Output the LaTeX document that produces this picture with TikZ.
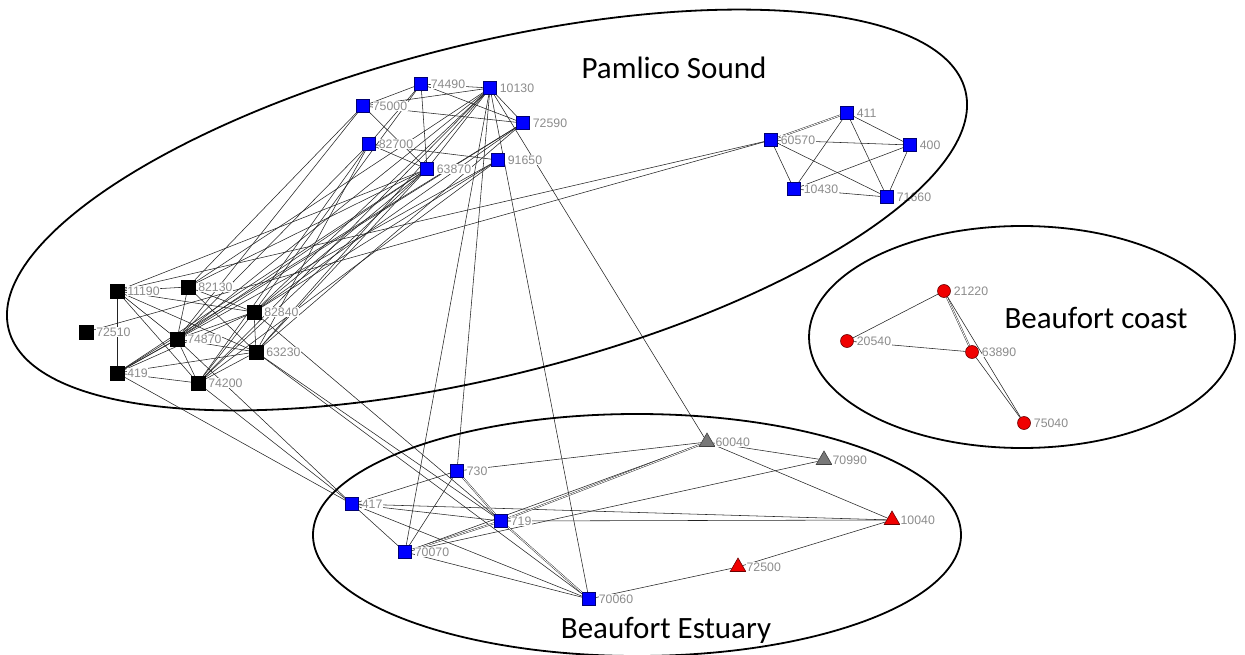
\documentclass[tikz,border=0pt]{standalone}
\usepackage{fontspec}
\usetikzlibrary{shapes.geometric}
\newfontfamily\lblfamily{Liberation Sans}
\newfontfamily\regionfamily{Carlito}
\definecolor{labelgray}{RGB}{140,140,140}
\definecolor{edgegray}{RGB}{35,35,35}
\definecolor{nodeblue}{RGB}{0,0,255}
\definecolor{nodered}{RGB}{240,0,0}
\definecolor{trigray}{RGB}{120,120,120}
\pgfdeclarelayer{edgelayer}
\pgfdeclarelayer{toplayer}
\pgfsetlayers{edgelayer,main,toplayer}

\begin{document}
\begin{tikzpicture}[x=1pt,y=-1pt,
  lbl/.style={font=\lblfamily\fontsize{12.3}{14}\selectfont, text=labelgray, fill=white, inner sep=0.4pt},
  bsq/.style={rectangle, minimum size=13pt, inner sep=0pt, fill=nodeblue, draw=nodeblue!45!black, line width=0.6pt},
  ksq/.style={rectangle, minimum size=14pt, inner sep=0pt, fill=black, draw=black},
  rdot/.style={circle, minimum size=13pt, inner sep=0pt, fill=nodered, draw=nodered!45!black, line width=0.6pt},
  tri/.style={regular polygon, regular polygon sides=3, minimum size=18pt, inner sep=0pt, line width=0.6pt},
  gtri/.style={tri, fill=trigray, draw=black!75},
  rtri/.style={tri, fill=nodered, draw=nodered!45!black},
  edge/.style={draw=edgegray, line width=0.55pt},
  twin/.style={draw=edgegray, double=white, double distance=0.8pt, line width=0.45pt},
  ring/.style={draw=black, line width=1.8pt},
  region/.style={font=\regionfamily\fontsize{31}{36}\selectfont, text=black, inner sep=0pt},
  label distance=2.5pt
]
\useasboundingbox (0,0) rectangle (1245,655);

% ---- Pamlico Sound: blue stations ----
\node[bsq, label={[lbl]right:75000}] (n75000) at (363,106) {};
\node[bsq, label={[lbl]right:74490}] (n74490) at (421,84) {};
\node[bsq, label={[lbl]right:10130}] (n10130) at (490,88) {};
\node[bsq, label={[lbl]right:72590}] (n72590) at (523,123) {};
\node[bsq, label={[lbl]right:82700}] (n82700) at (369,144) {};
\node[bsq, label={[lbl]right:91650}] (n91650) at (498,160) {};
\node[bsq, label={[lbl]right:63870}] (n63870) at (427,169) {};
\node[bsq, label={[lbl]right:60570}] (n60570) at (771,140) {};
\node[bsq, label={[lbl]right:411}] (n411) at (847,113) {};
\node[bsq, label={[lbl]right:400}] (n400) at (910,145) {};
\node[bsq, label={[lbl]right:10430}] (n10430) at (794,189) {};
\node[bsq, label={[lbl]right:71660}] (n71660) at (887,197) {};

% ---- Pamlico Sound: black stations ----
\node[ksq, label={[lbl]right:11190}] (n11190) at (117,291) {};
\node[ksq, label={[lbl]right:82130}] (n82130) at (188,287) {};
\node[ksq, label={[lbl]right:72510}] (n72510) at (86,332) {};
\node[ksq, label={[lbl]right:82840}] (n82840) at (254,312) {};
\node[ksq, label={[lbl]right:74870}] (n74870) at (177,339) {};
\node[ksq, label={[lbl]right:63230}] (n63230) at (256,352) {};
\node[ksq, label={[lbl]right:419}] (n419) at (117,373) {};
\node[ksq, label={[lbl]right:74200}] (n74200) at (198,383) {};

% ---- Beaufort coast ----
\node[rdot, label={[lbl]right:21220}] (n21220) at (944,291) {};
\node[rdot, label={[lbl]right:20540}] (n20540) at (847,341) {};
\node[rdot, label={[lbl]right:63890}] (n63890) at (972,352) {};
\node[rdot, label={[lbl]right:75040}] (n75040) at (1024,423) {};

% ---- Beaufort Estuary ----
\node[gtri, label={[lbl]right:60040}] (n60040) at (707,442) {};
\node[gtri, label={[lbl]right:70990}] (n70990) at (824,460) {};
\node[rtri, label={[lbl]right:10040}] (n10040) at (892,520) {};
\node[rtri, label={[lbl]right:72500}] (n72500) at (738,567) {};
\node[bsq, label={[lbl]right:730}] (n730) at (457,471) {};
\node[bsq, label={[lbl]right:417}] (n417) at (352,504) {};
\node[bsq, label={[lbl]right:719}] (n719) at (501,521) {};
\node[bsq, label={[lbl]right:70070}] (n70070) at (405,552) {};
\node[bsq, label={[lbl]right:70060}] (n70060) at (589,599) {};

\begin{pgfonlayer}{edgelayer}
  % links among the blue Pamlico stations
  \foreach \a/\b in {75000/74490, 75000/10130, 75000/72590, 75000/63870,
                     74490/10130, 74490/72590, 74490/63870, 74490/82700,
                     10130/72590, 10130/63870, 82700/91650, 82700/63870}
    \draw[edge] (n\a) -- (n\b);
  % blue Pamlico stations to black stations
  \foreach \a/\b in {75000/82130, 75000/74870, 82700/74870, 82700/74200, 82700/63230,
                     74490/82840, 10130/82840, 10130/74870, 10130/63230, 10130/82130,
                     10130/74200, 72590/74870, 72590/419, 72590/63230, 72590/82840,
                     63870/11190, 63870/74870, 63870/74200, 63870/82840, 63870/63230,
                     63870/419, 63870/82130, 91650/74200, 91650/82840, 91650/419,
                     60570/11190, 60570/72510}
    \draw[edge] (n\a) -- (n\b);
  % links among black stations
  \foreach \a/\b in {11190/82130, 11190/419, 11190/74870, 11190/74200, 11190/63230,
                     11190/82840, 82130/82840, 82130/63230, 82130/74870,
                     419/74870, 419/82840, 419/63230, 419/74200,
                     74870/63230, 74870/74200, 74870/82840,
                     82840/63230, 82840/74200, 63230/74200}
    \draw[edge] (n\a) -- (n\b);
  % Pamlico to estuary
  \foreach \a/\b in {419/417, 74200/417, 74870/417, 82840/719, 63230/719, 63230/70060,
                     10130/730, 10130/70070, 10130/70060, 10130/60040}
    \draw[edge] (n\a) -- (n\b);
  % estuary links
  \foreach \a/\b in {417/730, 417/719, 417/10040, 417/70060, 417/70070,
                     730/60040, 730/70070, 719/10040,
                     70070/60040, 70070/70990, 70070/70060,
                     60040/70990, 60040/10040, 10040/72500, 72500/70060}
    \draw[edge] (n\a) -- (n\b);
  \foreach \a/\b in {730/719, 719/70060, 70070/719, 719/60040}
    \draw[twin] (n\a) -- (n\b);
  % eastern Pamlico group
  \foreach \a/\b in {60570/400, 60570/10430, 60570/71660, 411/400, 411/10430,
                     411/71660, 400/71660, 400/10430, 10430/71660}
    \draw[edge] (n\a) -- (n\b);
  \draw[twin] (n60570) -- (n411);
  % Beaufort coast
  \foreach \a/\b in {21220/20540, 20540/63890, 63890/75040}
    \draw[edge] (n\a) -- (n\b);
  \draw[twin] (n21220) -- (n63890);
  \draw[edge] (n21220) -- (n75040);
\end{pgfonlayer}

\begin{pgfonlayer}{toplayer}
  % region outlines and names
  \draw[ring, rotate around={14:(487,210)}] (487,210) ellipse [x radius=493, y radius=166];
  \draw[ring] (1022,337) ellipse [x radius=213, y radius=111];
  \draw[ring] (637,535) ellipse [x radius=324, y radius=121];
  \node[region] (tPamlico) at (674,68) {Pamlico Sound};
  \node[region] (tCoast) at (1096,318) {Beaufort coast};
  \node[region] (tEstuary) at (666,630) {Beaufort Estuary};
\end{pgfonlayer}
\end{tikzpicture}
\end{document}
